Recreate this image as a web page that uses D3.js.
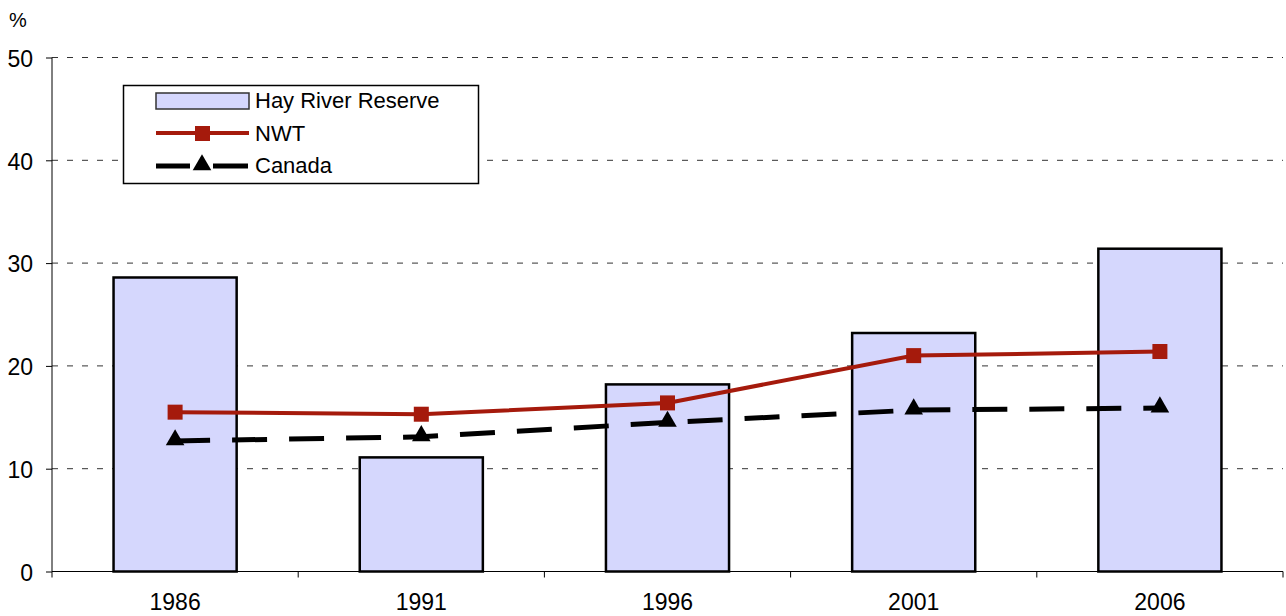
<!DOCTYPE html>
<html><head><meta charset="utf-8">
<script src="https://cdn.jsdelivr.net/npm/d3@7"></script>
<style>body{margin:0;background:#fff}svg{font-family:"Liberation Sans",Arial,sans-serif}</style>
</head><body><svg id="c" width="1286" height="616"></svg>
<script>
const years = ["1986","1991","1996","2001","2006"];
const hayRiver = [28.6, 11.1, 18.2, 23.2, 31.4];
const nwt = [15.5, 15.3, 16.4, 21.0, 21.4];
const canada = [12.7, 13.1, 14.5, 15.7, 15.9];
const yTicks = [0,10,20,30,40,50];

const svg = d3.select("#c");
const L=52,R=1283,T=57.5,B=571.5;
const x = d3.scaleBand().domain(years).range([L,R]);
const y = d3.scaleLinear().domain([0,50]).range([B,T]);

// grid
svg.append("g").selectAll("line").data(yTicks.filter(d=>d>0)).join("line")
  .attr("x1",L).attr("x2",R).attr("y1",d=>y(d)).attr("y2",d=>y(d))
  .attr("stroke","#333").attr("stroke-width",1).attr("stroke-dasharray","6,9");

// bars
svg.append("g").selectAll("rect").data(years).join("rect")
  .attr("x",d=>x(d)+x.bandwidth()*0.25).attr("width",x.bandwidth()*0.5)
  .attr("y",(d,i)=>y(hayRiver[i])).attr("height",(d,i)=>B-y(hayRiver[i]))
  .attr("fill","#d5d7fd").attr("stroke","#000").attr("stroke-width",2.5);

// axes
const ya = svg.append("g").attr("transform",`translate(${L},0)`)
  .call(d3.axisLeft(y).tickValues(yTicks).tickSize(6).tickPadding(13));
ya.select(".domain").attr("d",`M0,${T}V${B}`);
ya.selectAll("text").attr("font-size",23).attr("fill","#000").attr("dy","0.38em").attr("font-family","Liberation Sans, Arial, sans-serif");
const xa = svg.append("g").attr("transform",`translate(0,${B})`)
  .call(d3.axisBottom(x).tickSize(0).tickPadding(22));
xa.select(".domain").attr("d",`M${L},0H${R}`);
xa.selectAll("text").attr("font-size",23).attr("fill","#000").attr("font-family","Liberation Sans, Arial, sans-serif");
svg.append("g").selectAll("line").data(d3.range(years.length+1)).join("line")
  .attr("x1",i=>L+i*x.step()).attr("x2",i=>L+i*x.step()).attr("y1",B).attr("y2",B+6)
  .attr("stroke","#000");

svg.append("text").attr("x",9).attr("y",27).attr("font-size",20).text("%");

const cx = d => x(d)+x.bandwidth()/2;
const line = d3.line().x(d=>cx(d[0])).y(d=>y(d[1]));
// canada
svg.append("path").datum(years.map((d,i)=>[d,canada[i]])).attr("d",line)
  .attr("fill","none").attr("stroke","#000").attr("stroke-width",5).attr("stroke-dasharray","35,22");
const tri = d3.symbol().type(d3.symbolTriangle).size(150);
svg.append("g").selectAll("path").data(years).join("path")
  .attr("transform",(d,i)=>`translate(${cx(d)},${y(canada[i])-1})`).attr("d",tri).attr("fill","#000");
// nwt
svg.append("path").datum(years.map((d,i)=>[d,nwt[i]])).attr("d",line)
  .attr("fill","none").attr("stroke","#a51a0c").attr("stroke-width",4);
svg.append("g").selectAll("rect").data(years).join("rect")
  .attr("x",d=>cx(d)-7.5).attr("y",(d,i)=>y(nwt[i])-7.5).attr("width",15).attr("height",15).attr("fill","#a51a0c");

// legend
const lg = svg.append("g");
lg.append("rect").attr("x",123.5).attr("y",85.5).attr("width",355).attr("height",98).attr("fill","#fff").attr("stroke","#000").attr("stroke-width",1.5);
lg.append("rect").attr("x",156).attr("y",93).attr("width",93).attr("height",16).attr("fill","#d5d7fd").attr("stroke","#333").attr("stroke-width",1.5);
lg.append("line").attr("x1",156).attr("x2",249).attr("y1",133).attr("y2",133).attr("stroke","#a51a0c").attr("stroke-width",4);
lg.append("rect").attr("x",195).attr("y",126).attr("width",15).attr("height",15).attr("fill","#a51a0c");
lg.append("line").attr("x1",156).attr("x2",190).attr("y1",166).attr("y2",166).attr("stroke","#000").attr("stroke-width",5);
lg.append("line").attr("x1",213).attr("x2",248).attr("y1",166).attr("y2",166).attr("stroke","#000").attr("stroke-width",5);
lg.append("path").attr("transform","translate(202,165)").attr("d",tri).attr("fill","#000");
const labels = ["Hay River Reserve","NWT","Canada"];
lg.selectAll("text").data(labels).join("text").attr("x",255).attr("y",(d,i)=>108+i*32.5)
  .attr("font-size",22).text(d=>d);
</script></body></html>
